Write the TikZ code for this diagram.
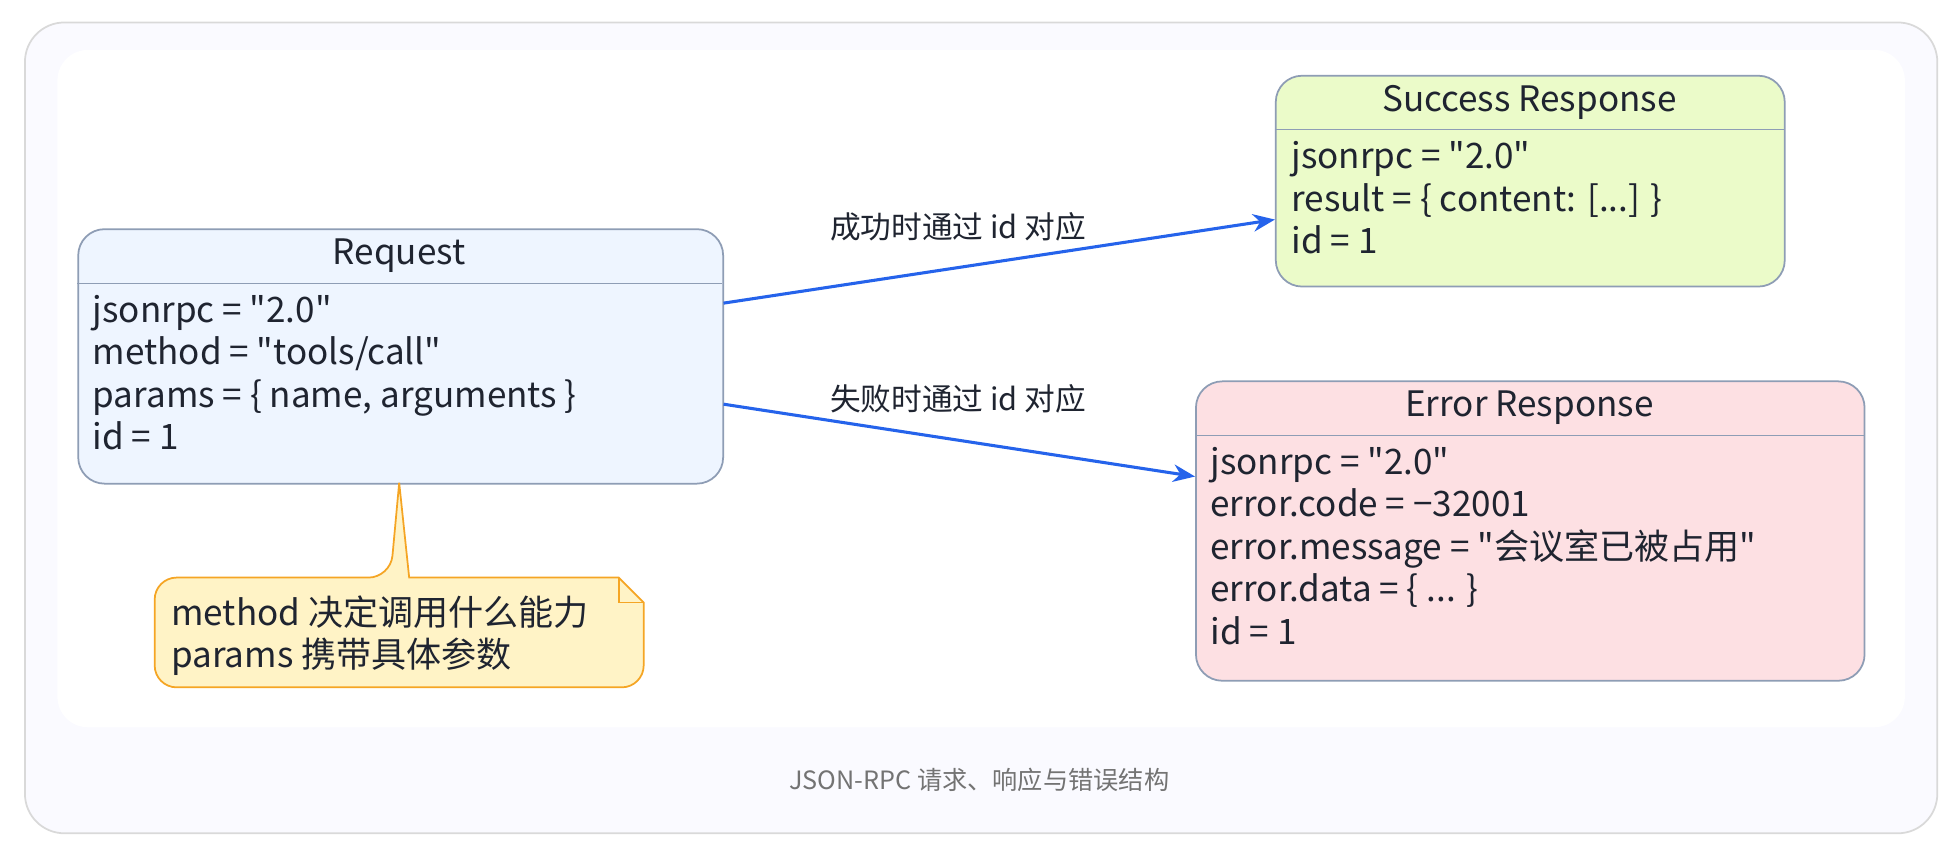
\documentclass[tikz,border=0pt]{standalone}
\usepackage{fontspec}
\setmainfont{Noto Sans CJK SC}
\usetikzlibrary{arrows.meta, positioning}
\definecolor{reqfill}{HTML}{EEF5FF}
\definecolor{okfill}{HTML}{EBFBC9}
\definecolor{errfill}{HTML}{FDE0E3}
\definecolor{notefill}{HTML}{FFF3C6}
\definecolor{noteline}{HTML}{F5A524}
\definecolor{boxline}{HTML}{8E9DB5}
\definecolor{arrowblue}{HTML}{2563EB}
\definecolor{txt}{HTML}{1F2430}
\newcommand{\q}{\textquotedbl}
\tikzset{
  box/.style={draw=boxline, line width=0.8pt, rounded corners=12pt, anchor=north west, inner sep=0pt},
  title/.style={font=\fontsize{16}{18}\selectfont, text=txt},
  body/.style={font=\fontsize{16}{19.4}\selectfont, text=txt, align=left, anchor=north west, inner sep=0pt},
  link/.style={-{Stealth[length=10pt,width=8pt]}, arrowblue, line width=1.4pt},
  lbl/.style={font=\fontsize{14}{16}\selectfont, text=txt}
}
\begin{document}
\begin{tikzpicture}[x=0.02cm, y=-0.02cm]
    \useasboundingbox (0,0) rectangle (1568,683);
    % frame
    \draw[draw=black!15, fill=blue!2!white, rounded corners=18pt, line width=0.8pt] (20,18) rectangle (1553,668);
    \fill[white, rounded corners=14pt] (46,40) rectangle (1527,583);

    % Request
    \node[box, fill=reqfill, minimum width=517*0.02cm, minimum height=204*0.02cm] (req) at (62,183) {};
    \draw[boxline] (62,227) -- (579,227);
    \node[title] (reqt) at (320,205) {Request};
    \node[body] (reqb) at (74,236) {jsonrpc = \q2.0\q\\method = \q tools/call\q\\params = \{ name, arguments \}\\id = 1};

    % Success
    \node[box, fill=okfill, minimum width=408*0.02cm, minimum height=169*0.02cm] (ok) at (1022,60) {};
    \draw[boxline] (1022,104) -- (1430,104);
    \node[title] (okt) at (1226,82) {Success Response};
    \node[body] (okb) at (1035,113) {jsonrpc = \q2.0\q\\result = \{ content: [...] \}\\id = 1};

    % Error
    \node[box, fill=errfill, minimum width=536*0.02cm, minimum height=240*0.02cm] (err) at (958,305) {};
    \draw[boxline] (958,349) -- (1494,349);
    \node[title] (errt) at (1226,327) {Error Response};
    \node[body] (errb) at (970,358) {jsonrpc = \q2.0\q\\error.code = −32001\\error.message = \q 会议室已被占用\q\\error.data = \{ ... \}\\id = 1};

    % note
    \draw[noteline, fill=notefill, line width=0.8pt, rounded corners=10pt]
      (124,551) -- (124,463) -- (313,463) [sharp corners] -- (320,387) -- (328,463)
      -- (496,463) -- (516,483) [rounded corners=10pt] -- (516,551) -- cycle;
    \draw[noteline, line width=0.8pt] (496,463) -- (496,483) -- (516,483);
    \node[body] (note) at (137,477) {method 决定调用什么能力\\params 携带具体参数};

    % connectors
    \coordinate (reqa) at (580,243);
    \coordinate (reqe) at (580,324);
    \coordinate (oka) at (1022,176);
    \coordinate (erra) at (958,382);
    \draw[link] (reqa) -- (oka);
    \draw[link] (reqe) -- (erra);
    \node[lbl] (okl) at (768,182) {成功时通过 id 对应};
    \node[lbl] (errl) at (768,320) {失败时通过 id 对应};

    \node[font=\fontsize{11.5}{13}\selectfont, text=black!55] (cap) at (785,625) {JSON-RPC 请求、响应与错误结构};
\end{tikzpicture}
\end{document}
